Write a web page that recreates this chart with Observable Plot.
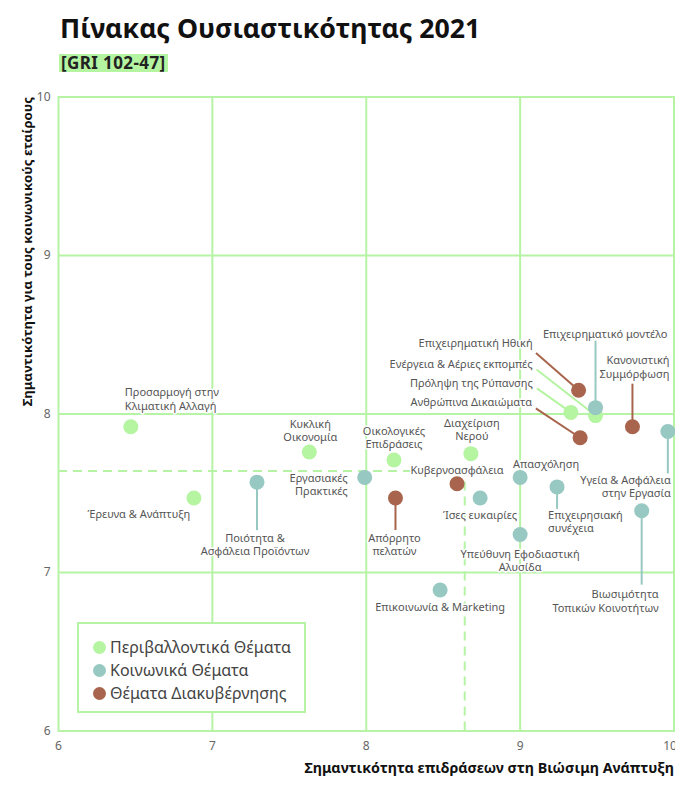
<!DOCTYPE html>
<html>
<head>
<meta charset="utf-8">
<script src="https://cdn.jsdelivr.net/npm/d3@7"></script>
<script src="https://cdn.jsdelivr.net/npm/@observablehq/plot@0.6"></script>
<style>
  body { margin: 0; background: #fff; font-family: "Noto Sans", sans-serif; }
  #wrap { position: relative; width: 675px; height: 787px; overflow: hidden; }
  #title { position: absolute; left: 60px; top: 15px; font-size: 26.7px; line-height: 1; font-weight: 700; color: #111; white-space: nowrap; }
  #sub { position: absolute; left: 59px; top: 54px; height: 18px; line-height: 18px; font-size: 17px; letter-spacing: 0.4px; font-weight: 700; color: #222; background: #b5f5a1; padding: 0 2px; white-space: nowrap; }
  #chart { position: absolute; left: 0; top: 84px; }
  #legend { position: absolute; left: 77px; top: 622px; width: 229px; height: 91px; box-sizing: border-box; border: 2px solid #b6f3a4; background: #fff; }
  .item { position: absolute; left: 14px; height: 20px; display: flex; align-items: center; font-size: 16px; color: #444; white-space: nowrap; }
  .sw { width: 13px; height: 13px; border-radius: 50%; margin-right: 4px; }
</style>
</head>
<body>
<div id="wrap">
  <div id="title"></div>
  <div id="sub"></div>
  <div id="chart"></div>
  <div id="legend"></div>
</div>
<script>
// ---------- data ----------
const titleText = "Πίνακας Ουσιαστικότητας 2021";
const subtitleText = "[GRI 102-47]";
const xLabel = "Σημαντικότητα επιδράσεων στη Βιώσιμη Ανάπτυξη";
const yLabel = "Σημαντικότητα για τους κοινωνικούς εταίρους";

const categories = ["Περιβαλλοντικά Θέματα", "Κοινωνικά Θέματα", "Θέματα Διακυβέρνησης"];
const categoryColors = ["#b5f5a1", "#98c8c2", "#a8644c"];

const topics = [
  "Προσαρμογή στην\nΚλιματική Αλλαγή",
  "Έρευνα & Ανάπτυξη",
  "Κυκλική\nΟικονομία",
  "Οικολογικές\nΕπιδράσεις",
  "Διαχείριση\nΝερού",
  "Ενέργεια & Αέριες εκπομπές",
  "Πρόληψη της Ρύπανσης",
  "Ποιότητα &\nΑσφάλεια Προϊόντων",
  "Εργασιακές\nΠρακτικές",
  "Επικοινωνία & Marketing",
  "Ίσες ευκαιρίες",
  "Απασχόληση",
  "Υπεύθυνη Εφοδιαστική\nΑλυσίδα",
  "Επιχειρησιακή\nσυνέχεια",
  "Επιχειρηματικό μοντέλο",
  "Υγεία & Ασφάλεια\nστην Εργασία",
  "Βιωσιμότητα\nΤοπικών Κοινοτήτων",
  "Απόρρητο\nπελατών",
  "Κυβερνοασφάλεια",
  "Επιχειρηματική Ηθική",
  "Ανθρώπινα Δικαιώματα",
  "Κανονιστική\nΣυμμόρφωση"
];
const topicCategory = [0,0,0,0,0,0,0, 1,1,1,1,1,1,1,1,1,1, 2,2,2,2,2];
const impact =     [6.47,6.88,7.63,8.18,8.68,9.49,9.33, 7.29,7.99,8.48,8.74,9.00,9.00,9.24,9.49,9.96,9.79, 8.19,8.59,9.38,9.39,9.73];
const importance = [7.92,7.47,7.76,7.71,7.75,7.99,8.01, 7.57,7.60,6.89,7.47,7.60,7.24,7.54,8.04,7.89,7.39, 7.47,7.56,8.15,7.85,7.92];

const xTicks = [6, 7, 8, 9, 10];
const yTicks = [6, 7, 8, 9, 10];
const avgImpact = 8.64;
const avgImportance = 7.64;

// ---------- layout (pixel offsets of each label / leader end from its dot) ----------
const labelLayout = [
  [-6, -28, "start"],
  [-55, 16, "middle"],
  [1, -22, "middle"],
  [0, -22.5, "middle"],
  [1, -24, "middle"],
  [-63, -52, "end", -59, -46],
  [-38, -30, "end", -34, -24],
  [-2, 62, "middle", 0, 48],
  [-17, 6.5, "end"],
  [0, 17, "middle"],
  [0, 17, "middle"],
  [26, -14, "middle"],
  [0, 26, "middle"],
  [-9, 34, "start", 0, 22],
  [72, -74, "end", 0, -67],
  [3, 55, "end", 0, 42],
  [17, 90, "end", 0, 74],
  [-1, 46.5, "middle", 0, 32],
  [0, -14, "middle"],
  [-46, -47, "end", -42.6, -37.3],
  [-48, -36, "end", -44.3, -29.4],
  [37, -60, "end", 0, -43]
];

const gridColor = "#b6f3a4";
const W = 675, H = 703, mT = 12.5, mB = 56.5, mL = 58, mR = 1.5;
const xDomain = [xTicks[0], xTicks[xTicks.length - 1]];
const yDomain = [yTicks[0], yTicks[yTicks.length - 1]];
const ux = (xDomain[1] - xDomain[0]) / (W - mL - mR);
const uy = (yDomain[1] - yDomain[0]) / (H - mT - mB);

const rows = topics.map((t, i) => {
  const L = labelLayout[i];
  return {
    label: t, x: impact[i], y: importance[i], cat: categories[topicCategory[i]],
    lx: impact[i] + L[0] * ux, ly: importance[i] - L[1] * uy, anchor: L[2],
    hasLeader: L.length > 3,
    ex: L.length > 3 ? impact[i] + L[3] * ux : null,
    ey: L.length > 3 ? importance[i] - L[4] * uy : null
  };
});

const labelStyle = { fontSize: 11, fill: "#555", lineAnchor: "middle", lineHeight: 1.2, stroke: "white", strokeWidth: 3, fontWeight: 400 };
const tickStyle = { tickSize: 0, fontSize: 12, color: "#666", label: null, tickFormat: d => String(d) };

const plot = Plot.plot({
  width: W, height: H,
  marginTop: mT, marginBottom: mB, marginLeft: mL, marginRight: mR,
  style: { fontFamily: "'Noto Sans', sans-serif", background: "transparent", overflow: "visible" },
  x: { domain: xDomain },
  y: { domain: yDomain },
  color: { domain: categories, range: categoryColors },
  marks: [
    Plot.gridX(xTicks.slice(1, -1), { stroke: gridColor, strokeOpacity: 1, strokeWidth: 2 }),
    Plot.gridY(yTicks.slice(1, -1), { stroke: gridColor, strokeOpacity: 1, strokeWidth: 2 }),
    Plot.ruleY([avgImportance], { x1: xDomain[0], x2: avgImpact, stroke: gridColor, strokeWidth: 2, strokeDasharray: "9,6" }),
    Plot.ruleX([avgImpact], { y1: yDomain[0], y2: avgImportance, stroke: gridColor, strokeWidth: 2, strokeDasharray: "9,6" }),
    Plot.frame({ stroke: gridColor, strokeWidth: 2 }),
    Plot.text(rows.filter(d => d.anchor === "middle"), { x: "lx", y: "ly", text: "label", textAnchor: "middle", ...labelStyle }),
    Plot.text(rows.filter(d => d.anchor === "start"), { x: "lx", y: "ly", text: "label", textAnchor: "start", ...labelStyle }),
    Plot.text(rows.filter(d => d.anchor === "end"), { x: "lx", y: "ly", text: "label", textAnchor: "end", ...labelStyle }),
    Plot.link(rows.filter(d => d.hasLeader), { x1: "x", y1: "y", x2: "ex", y2: "ey", stroke: "cat", strokeWidth: 2 }),
    Plot.dot(rows, { x: "x", y: "y", r: 7.5, fill: "cat", stroke: null }),
    Plot.axisX(xTicks.slice(0, -1), { ...tickStyle, tickPadding: 10 }),
    Plot.axisX(xTicks.slice(-1), { ...tickStyle, tickPadding: 10, dx: -4 }),
    Plot.axisY(yTicks, { ...tickStyle, tickPadding: 8 }),
    Plot.text([xLabel], { frameAnchor: "bottom-right", textAnchor: "end", lineAnchor: "middle", dy: 37.5, fontSize: 14.3, fontWeight: 700, fill: "#111" }),
    Plot.text([yLabel], { frameAnchor: "top-left", textAnchor: "end", lineAnchor: "middle", rotate: -90, dx: -31, fontSize: 13.2, fontWeight: 700, fill: "#111" })
  ]
});
document.getElementById("chart").appendChild(plot);
document.getElementById("title").textContent = titleText;
document.getElementById("sub").textContent = subtitleText;

const legend = document.getElementById("legend");
categories.forEach((c, i) => {
  const item = document.createElement("div");
  item.className = "item";
  item.style.top = (13 + i * 23) + "px";
  const sw = document.createElement("span");
  sw.className = "sw";
  sw.style.background = categoryColors[i];
  const tx = document.createElement("span");
  tx.textContent = c;
  item.appendChild(sw);
  item.appendChild(tx);
  legend.appendChild(item);
});
</script>
</body>
</html>
